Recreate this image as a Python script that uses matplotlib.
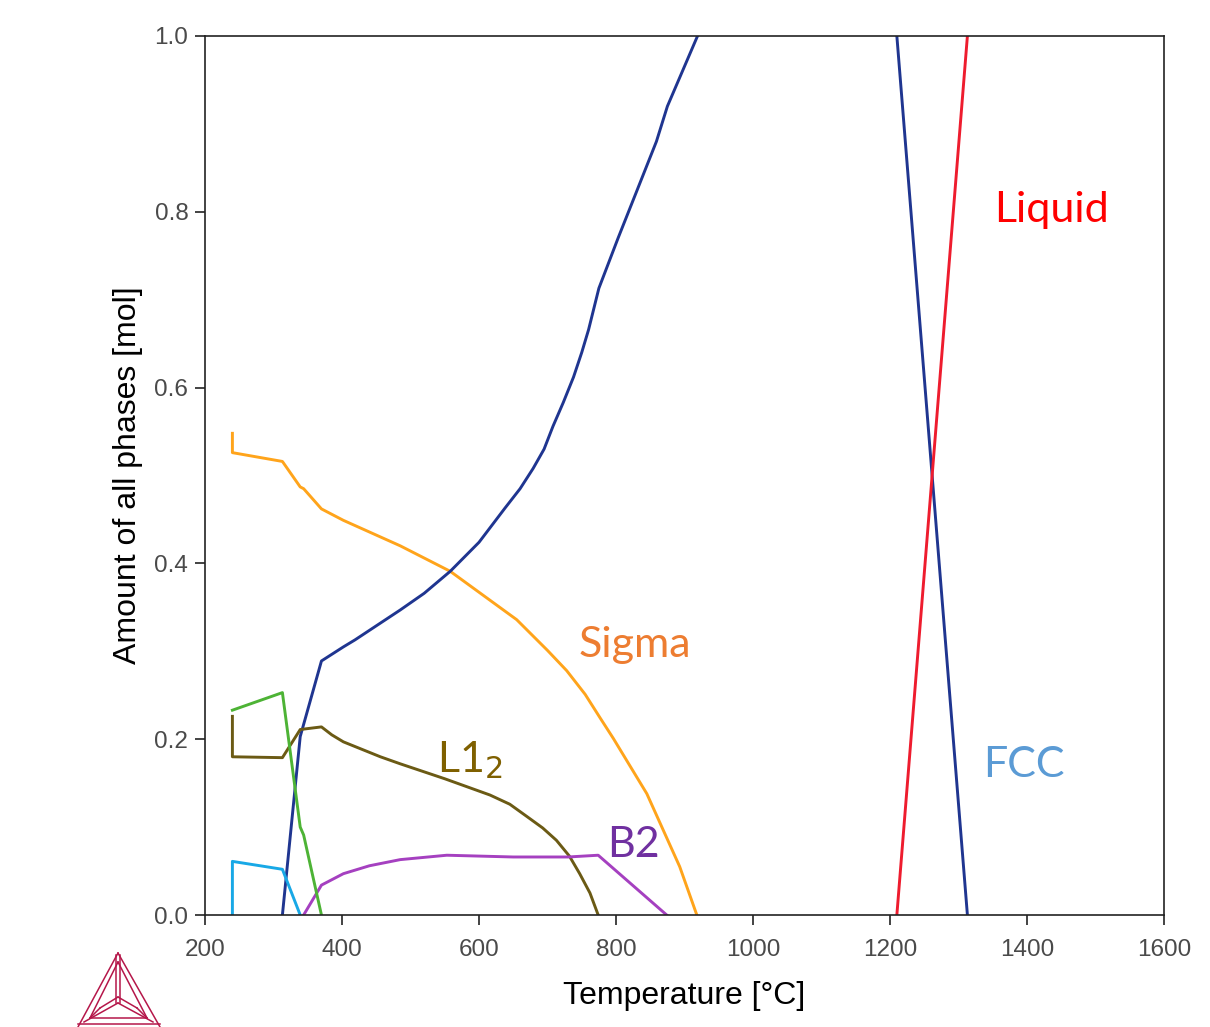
import matplotlib
matplotlib.use("Agg")
import matplotlib.pyplot as plt
from matplotlib.lines import Line2D

# ---- data ----
sigma_T = [240, 240, 313, 339, 344, 370, 402, 485, 558, 655, 700, 728, 755, 777, 796, 845, 893, 918]
sigma_v = [0.548, 0.526, 0.516, 0.487, 0.485, 0.462, 0.449, 0.420, 0.391, 0.336, 0.301, 0.278, 0.251, 0.224, 0.201, 0.138, 0.055, 0.0]

fcc_lo_T = [313, 339, 370, 402, 419, 485, 520, 558, 600, 638, 660, 679, 695, 708, 723, 738, 750, 760, 775, 803, 830, 859, 875, 919]
fcc_lo_v = [0.0, 0.203, 0.289, 0.305, 0.313, 0.347, 0.366, 0.391, 0.424, 0.463, 0.485, 0.508, 0.530, 0.556, 0.583, 0.612, 0.640, 0.666, 0.713, 0.770, 0.823, 0.880, 0.920, 1.0]

fcc_hi_T = [1210, 1313]
fcc_hi_v = [1.0, 0.0]

liquid_T = [1210, 1313]
liquid_v = [0.0, 1.0]

l12_T = [240, 240, 313, 339, 370, 385, 402, 456, 485, 550, 616, 645, 670, 693, 713, 732, 747, 762, 774]
l12_v = [0.226, 0.180, 0.179, 0.211, 0.214, 0.205, 0.197, 0.180, 0.172, 0.155, 0.1365, 0.126, 0.112, 0.099, 0.085, 0.067, 0.047, 0.025, 0.0]

b2_T = [344, 370, 402, 440, 485, 553, 650, 730, 774, 874]
b2_v = [0.0, 0.034, 0.047, 0.056, 0.063, 0.068, 0.066, 0.066, 0.068, 0.0]

green_T = [240, 313, 339, 344, 370]
green_v = [0.233, 0.253, 0.100, 0.091, 0.0]

cyan_T = [240, 240, 313, 339]
cyan_v = [0.0, 0.061, 0.052, 0.0]

x_ticks = [200, 400, 600, 800, 1000, 1200, 1400, 1600]
y_ticks = [0.0, 0.2, 0.4, 0.6, 0.8, 1.0]

W, H = 1210, 1027
fig = plt.figure(figsize=(W / 100, H / 100), dpi=100)
ax = fig.add_axes([205 / W, 1 - 915 / H, (1164 - 205) / W, (915 - 36) / H])

lw = 2.1
ax.plot(sigma_T, sigma_v, color="#FFA41B", lw=lw)
ax.plot(fcc_lo_T, fcc_lo_v, color="#1F3590", lw=lw)
ax.plot(fcc_hi_T, fcc_hi_v, color="#1F3590", lw=lw)
ax.plot(liquid_T, liquid_v, color="#EE1C2E", lw=lw)
ax.plot(l12_T, l12_v, color="#6B5A14", lw=lw)
ax.plot(b2_T, b2_v, color="#A540C0", lw=lw)
ax.plot(green_T, green_v, color="#4DB335", lw=lw)
ax.plot(cyan_T, cyan_v, color="#18A8E6", lw=lw)

ax.set_xlim(200, 1600)
ax.set_ylim(0.0, 1.0)
ax.set_xticks(x_ticks)
ax.set_xticklabels([str(v) for v in x_ticks])
ax.set_yticks(y_ticks)
ax.set_yticklabels([f"{v:.1f}" for v in y_ticks])

for lab in ax.get_xticklabels() + ax.get_yticklabels():
    lab.set_fontfamily("Liberation Sans")
    lab.set_fontsize(17.5)
    lab.set_color("#4a4a4a")
ax.tick_params(axis="x", direction="out", length=7, width=1.2, pad=10, colors="#222222", labelcolor="#4a4a4a")
ax.tick_params(axis="y", direction="out", length=7, width=1.2, pad=5, colors="#222222", labelcolor="#4a4a4a")
for s in ax.spines.values():
    s.set_linewidth(1.2)
    s.set_color("#222222")

ax.set_xlabel("Temperature [°C]", fontfamily="Liberation Sans", fontsize=23, color="black", labelpad=15)
ax.set_ylabel("Amount of all phases [mol]", fontfamily="Liberation Sans", fontsize=23, color="black", labelpad=8)

lab_font = "Lato"
ax.text(1436, 0.802, "Liquid", color="#FF0000", fontsize=31, fontfamily=lab_font, ha="center", va="center")
ax.text(1396, 0.171, "FCC", color="#5B9BD5", fontsize=31, fontfamily=lab_font, ha="center", va="center")
ax.text(828, 0.307, "Sigma", color="#ED7D31", fontsize=31, fontfamily=lab_font, ha="center", va="center")
ax.text(587, 0.176, "L1$_2$", color="#7F6000", fontsize=31, fontfamily=lab_font, ha="center", va="center")
ax.text(826, 0.080, "B2", color="#7030A0", fontsize=31, fontfamily=lab_font, ha="center", va="center")

# Thermo-Calc style logo (decorative) in pixel coords
def P(x, y):
    return (x / W, 1 - y / H)

logo_c = "#B5174A"
segs = [
    [(118, 953), (78, 1027)], [(118, 953), (160, 1027)],
    [(118, 962), (90, 1018)], [(118, 962), (147, 1018)], [(90, 1018), (147, 1018)],
    [(78, 1024), (160, 1024)],
    [(116, 955), (116, 1003)], [(120, 955), (120, 1003)],
    [(118, 1003), (84, 1022)], [(118, 1003), (153, 1022)],
    [(118, 997), (100, 1008)], [(118, 997), (137, 1008)],
    [(100, 1008), (90, 1018)], [(137, 1008), (147, 1018)],
]
for (a, b) in segs:
    pa, pb = P(*a), P(*b)
    fig.add_artist(Line2D([pa[0], pb[0]], [pa[1], pb[1]], color=logo_c, lw=1.1, transform=fig.transFigure))

fig.savefig("out.png", dpi=100)
